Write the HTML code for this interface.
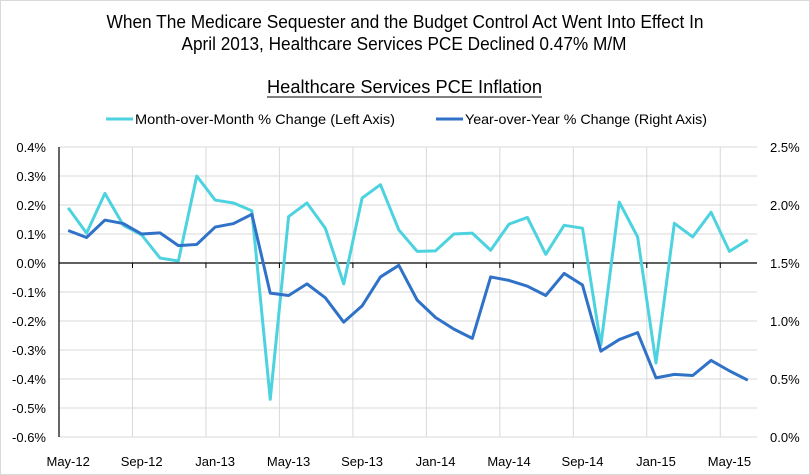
<!DOCTYPE html>
<html><head><meta charset="utf-8"><style>
html,body{margin:0;padding:0;background:#fff;}
svg{display:block;font-family:"Liberation Sans",sans-serif;}
</style></head><body>
<svg id="chart" width="810" height="475" xmlns="http://www.w3.org/2000/svg">
<rect x="0.5" y="0.5" width="809" height="474" fill="#fff" stroke="#d9d9d9"/>
<text x="405" y="28" text-anchor="middle" font-size="18" textLength="597" lengthAdjust="spacingAndGlyphs">When The Medicare Sequester and the Budget Control Act Went Into Effect In</text>
<text x="404" y="50" text-anchor="middle" font-size="18" textLength="445" lengthAdjust="spacingAndGlyphs">April 2013, Healthcare Services PCE Declined 0.47% M/M</text>
<text x="404.5" y="93" text-anchor="middle" font-size="18" textLength="275" lengthAdjust="spacingAndGlyphs">Healthcare Services PCE Inflation</text>
<line x1="267" y1="97" x2="542" y2="97" stroke="#000" stroke-width="1"/>
<g>
<line x1="106" y1="119" x2="133" y2="119" stroke="#4dd2df" stroke-width="3"/>
<text x="135" y="124" font-size="14" textLength="260" lengthAdjust="spacingAndGlyphs">Month-over-Month % Change (Left Axis)</text>
<line x1="436" y1="119" x2="463" y2="119" stroke="#2f72c8" stroke-width="3"/>
<text x="465" y="124" font-size="14" textLength="242" lengthAdjust="spacingAndGlyphs">Year-over-Year % Change (Right Axis)</text>
</g>
<g id="grid"></g>
<g id="axes"></g>
<g id="series"></g>
</svg>
<script>
const categories = ["May-12","Jun-12","Jul-12","Aug-12","Sep-12","Oct-12","Nov-12","Dec-12","Jan-13","Feb-13","Mar-13","Apr-13","May-13","Jun-13","Jul-13","Aug-13","Sep-13","Oct-13","Nov-13","Dec-13","Jan-14","Feb-14","Mar-14","Apr-14","May-14","Jun-14","Jul-14","Aug-14","Sep-14","Oct-14","Nov-14","Dec-14","Jan-15","Feb-15","Mar-15","Apr-15","May-15","Jun-15"];
const momValues = [0.19,0.103,0.24,0.13,0.097,0.017,0.007,0.30,0.217,0.207,0.18,-0.47,0.16,0.207,0.12,-0.072,0.224,0.27,0.114,0.04,0.042,0.10,0.103,0.044,0.134,0.157,0.03,0.13,0.12,-0.283,0.21,0.09,-0.345,0.137,0.09,0.175,0.04,0.08];
const yoyValues = [1.78,1.72,1.87,1.84,1.75,1.76,1.65,1.66,1.81,1.84,1.92,1.24,1.22,1.32,1.20,0.99,1.13,1.38,1.48,1.18,1.03,0.93,0.85,1.38,1.35,1.30,1.22,1.41,1.31,0.74,0.84,0.90,0.51,0.54,0.53,0.66,0.57,0.49];
const leftTicks = [0.4,0.3,0.2,0.1,0.0,-0.1,-0.2,-0.3,-0.4,-0.5,-0.6];
const rightTicks = [2.5,2.0,1.5,1.0,0.5,0.0];
const xLabels = ["May-12","Sep-12","Jan-13","May-13","Sep-13","Jan-14","May-14","Sep-14","Jan-15","May-15"];

const NS="http://www.w3.org/2000/svg";
const L=59,R=757,T=147,B=437;
const band=(R-L)/categories.length;
const x=i=>L+band*(i+0.5);
const yL=v=>T+(0.4-v)/1.0*(B-T);
const yR=v=>T+(2.5-v)/2.5*(B-T);
function mk(tag,attrs,parent){const e=document.createElementNS(NS,tag);for(const k in attrs)e.setAttribute(k,attrs[k]);parent.appendChild(e);return e;}
const grid=document.getElementById('grid'),axes=document.getElementById('axes'),series=document.getElementById('series');
leftTicks.forEach(v=>{
  const g=mk('line',{x1:L,x2:R,y1:yL(v),y2:yL(v),stroke:'#d9d9d9','stroke-width':1},grid);
  
  
  const t=mk('text',{x:46,y:yL(v)+5,'text-anchor':'end','font-size':13},axes);
  
  
  t.textContent=v.toFixed(1)+'%';
});
rightTicks.forEach(v=>{
  const t=mk('text',{x:770,y:yR(v)+5,'font-size':13},axes);
  
  
  t.textContent=v.toFixed(1)+'%';
});
xLabels.forEach(lab=>{
  const i=categories.indexOf(lab);
  const gx=L+band*i;
  if(i>0){const g=mk('line',{x1:gx,x2:gx,y1:T,y2:B,stroke:'#d9d9d9','stroke-width':1},grid);
  
  
  const tk=mk('line',{x1:gx,x2:gx,y1:yL(0),y2:yL(0)+5,stroke:'#000','stroke-width':1},axes);
  
  }
  const t=mk('text',{x:x(i),y:466,'text-anchor':'middle','font-size':13},axes);
  
  
  t.textContent=lab;
});
const ya=mk('line',{x1:L,x2:L,y1:T,y2:B,stroke:'#000','stroke-width':1.2},axes);


const xa=mk('line',{x1:L,x2:R,y1:yL(0),y2:yL(0),stroke:'#000','stroke-width':1.2},axes);


const p1=mk('polyline',{points:momValues.map((v,i)=>x(i)+','+yL(v)).join(' '),fill:'none',stroke:'#4dd2df','stroke-width':3,'stroke-linejoin':'round'},series);


const p2=mk('polyline',{points:yoyValues.map((v,i)=>x(i)+','+yR(v)).join(' '),fill:'none',stroke:'#2f72c8','stroke-width':3,'stroke-linejoin':'round'},series);


</script>
</body></html>
